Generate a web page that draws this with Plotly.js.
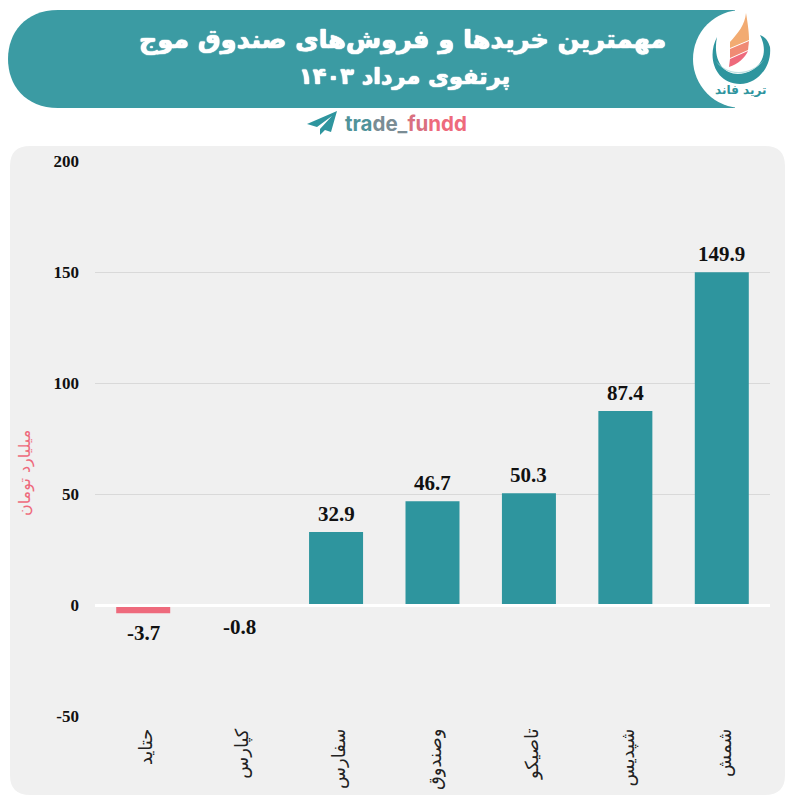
<!DOCTYPE html>
<html><head><meta charset="utf-8">
<script src="https://cdn.plot.ly/plotly-3.0.1.min.js"></script>
<style>html,body{margin:0;padding:0;background:#fff}</style></head>
<body><div id="chart" style="width:800px;height:800px"></div>
<script>
const categories = ['حتاید','کپارس','سفارس','وصندوق','تاصیکو','شپدیس','شمش'];
const values = [-3.7,-0.8,32.9,46.7,50.3,87.4,149.9];
const valueLabels = ['-3.7','-0.8','32.9','46.7','50.3','87.4','149.9'];
const yTicks = [-50,0,50,100,150,200];
const titleLine1 = 'مهمترین خریدها و فروش‌های صندوق موج';
const titleLine2 = 'پرتفوی مرداد ۱۴۰۳';
const TEAL='#2e959e', BANNER='#3b9ba3', PINK='#ee6a7c', PANEL='#f0f0f0';
const W=800,H=800, L=95,R=770,T=161,B=716;
const px=x=>(x-L)/(R-L), py=y=>(B-y)/(B-T);
const pth=s=>s.replace(/(-?[\d.]+),(-?[\d.]+)/g,(m,a,b)=>px(+a).toFixed(5)+','+py(+b).toFixed(5));
const shp=(d,fill,layer)=>({type:'path',xref:'paper',yref:'paper',path:pth(d),fillcolor:fill,line:{width:0},layer:layer||'below'});
const shapes=[
 shp('M30,146 L765,146 Q785,146 785,166 L785,775 Q785,795 765,795 L30,795 Q10,795 10,775 L10,166 Q10,146 30,146 Z',PANEL),
 shp('M58,10 L735,10 L735,108 L58,108 C25,108 8,85 8,59 C8,33 25,10 58,10 Z',BANNER),
 {type:'circle',xref:'paper',yref:'paper',x0:px(693),x1:px(791),y0:py(108),y1:py(10),fillcolor:'#fff',line:{width:0},layer:'below'},
 shp('M746,13 C748,25 749,33 749,40 L730,48 L730,42 C738,33 745,25 746,13 Z','#f2ab72'),
 shp('M730,49 L749,41 L748,50 L730,58 Z','#f08a74'),
 shp('M730,59 L748,51 C745,58 738,64 729,67 Z','#ee6a7c'),
 shp('M717,37 C706,58 716,84 740,84 C758,84 772,66 770,47 C768,40 765,37 760,35 C768,50 764,68 745,73 C725,78 712,62 717,37 Z',TEAL),
 shp('M714,58 C722,72 745,80 764,60 C750,78 725,78 714,58 Z','#bfe0e2'),
 shp('M337,111 L307,124 L317,127 L332,116 L320,129 L320,135 L325,130 L331,132 Z',TEAL),
 {type:'line',xref:'paper',yref:'paper',x0:0,x1:1,y0:py(605.6),y1:py(605.6),line:{color:'#ffffff',width:3},layer:'above'}
];
const annPx=(x,y,text,size,color,family,extra)=>Object.assign({xref:'paper',yref:'paper',x:px(x),y:py(y),text,showarrow:false,font:{size,color,family},xanchor:'center',yanchor:'middle'},extra||{});
const labelShift=v=>v<0?-20:18;
const heavy='0 0 1px #fff, 0 0 1px #fff, 0 0 1px #fff';
const annotations=[
 annPx(402,39,'<b>'+titleLine1+'</b>',25.5,'#fff','DejaVu Sans'),
 annPx(404,76,'<b>'+titleLine2+'</b>',22.5,'#fff','DejaVu Sans'),
 annPx(740,90,'<b>ترید فاند</b>',12,TEAL,'DejaVu Sans'),
 annPx(405.5,123,'<b><span style="color:#4f939a">tra</span><span style="color:#7a8c94">de_</span><span style="color:#d9707f">fu</span><span style="color:'+PINK+'">ndd</span></b>',20.5,'#666','Inter',{}),
 annPx(25,473,'میلیارد تومان',16,PINK,'DejaVu Sans',{textangle:-90}),
 ...categories.map((c,i)=>({x:c,y:values[i],xref:'x',yref:'y',text:'<b>'+valueLabels[i]+'</b>',showarrow:false,yshift:labelShift(values[i]),yanchor:'middle',font:{size:21,color:'#111',family:'Liberation Serif'}}))
];
annotations[0].font.shadow=heavy; annotations[1].font.shadow=heavy;
Plotly.newPlot('chart',[{type:'bar',x:categories,y:values,width:0.56,
  marker:{color:values.map(v=>v<0?PINK:TEAL),line:{width:0}},hoverinfo:'none'}],
{width:W,height:H,margin:{l:L,r:W-R,t:T,b:H-B},paper_bgcolor:'#fff',plot_bgcolor:'rgba(0,0,0,0)',showlegend:false,
 xaxis:{type:'category',categoryorder:'array',categoryarray:categories,tickangle:-90,ticks:'',showgrid:false,zeroline:false,showline:false,
   tickfont:{size:18,color:'#222',family:'DejaVu Sans'},ticklabelstandoff:8,ticklabelshift:3},
 yaxis:{range:[-50,200],tickvals:yTicks,ticktext:yTicks.map(String),ticks:'',showgrid:true,gridcolor:'#d9d9d9',gridwidth:1,zeroline:false,showline:false,
   tickfont:{size:17,color:'#111',family:'Liberation Serif',weight:'bold'},ticklabelstandoff:15},
 shapes,annotations,bargap:0.44},{staticPlot:true});
</script></body></html>
